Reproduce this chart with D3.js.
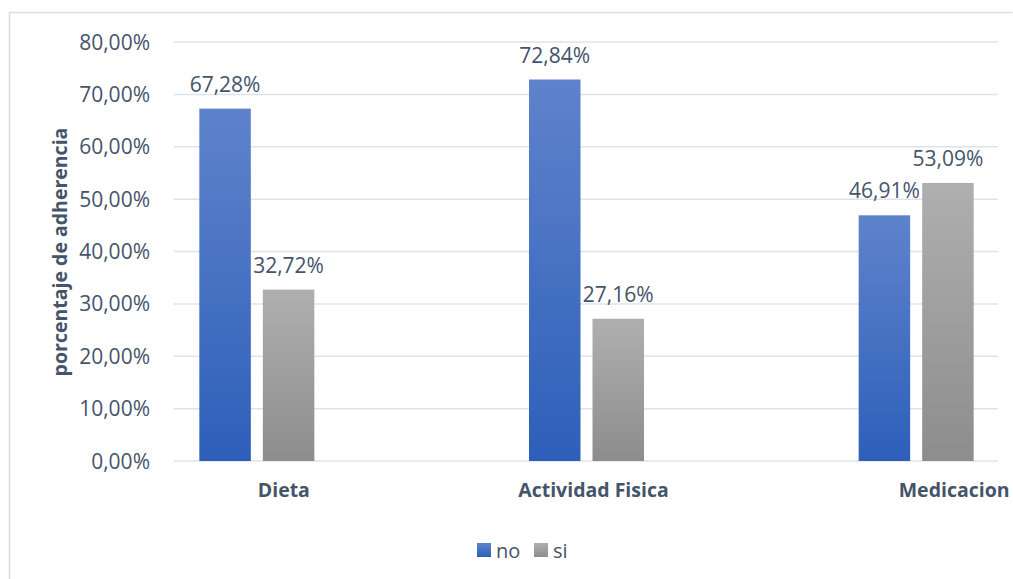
<!DOCTYPE html>
<html>
<head>
<meta charset="utf-8">
<script src="https://cdn.jsdelivr.net/npm/d3@7"></script>
<style>
  html, body { margin: 0; padding: 0; background: #fff; overflow: hidden; }
  svg { display: block; }
  text { font-family: "Open Sans", sans-serif; fill: #44546a; }
</style>
</head>
<body>
<svg id="chart" width="1013" height="579"></svg>
<script>
// ---- data ----
const categories = ["Dieta", "Actividad Fisica", "Medicacion"];
const seriesNames = ["no", "si"];
const noValues = [67.28, 72.84, 46.91];
const siValues = [32.72, 27.16, 53.09];
const yTicks = [0, 10, 20, 30, 40, 50, 60, 70, 80];
const yTitle = "porcentaje de adherencia";

// ---- layout ----
const svg = d3.select("#chart");
const plotLeft = 174, plotRight = 998, plotTop = 42, plotBottom = 461;
const labelNudge = [27, 7, 38];

const locale = d3.formatLocale({ decimal: ",", thousands: ".", grouping: [3], currency: ["", "€"] });
const fmt = v => locale.format(".2f")(v) + "%";

const x = d3.scaleBand().domain(categories).range([92, 1081]).padding(0);
const groupW = 115;
const xi = d3.scaleBand().domain(seriesNames)
  .range([x.bandwidth() / 2 - groupW / 2, x.bandwidth() / 2 + groupW / 2])
  .paddingInner(0.189).paddingOuter(0);
const y = d3.scaleLinear().domain([0, 80]).range([plotBottom, plotTop]);

// gradients
const defs = svg.append("defs");
const grads = { no: ["#5f83cb", "#2d5fba"], si: ["#afafaf", "#8d8d8d"] };
Object.entries(grads).forEach(([k, c]) => {
  const g = defs.append("linearGradient").attr("id", "g-" + k)
    .attr("x1", 0).attr("y1", 0).attr("x2", 0).attr("y2", 1);
  g.append("stop").attr("offset", "0%").attr("stop-color", c[0]);
  g.append("stop").attr("offset", "100%").attr("stop-color", c[1]);
});

// chart border
svg.append("path")
  .attr("d", `M9.5,600 V12.5 H1012.5`)
  .attr("fill", "none").attr("stroke", "#d9dde3").attr("stroke-width", 1.5);

// gridlines
svg.append("g").selectAll("line").data(yTicks).join("line")
  .attr("x1", plotLeft).attr("x2", plotRight)
  .attr("y1", d => y(d)).attr("y2", d => y(d))
  .attr("stroke", "#dfe3e9").attr("stroke-width", 1.5);

// y tick labels
svg.append("g").selectAll("text").data(yTicks).join("text")
  .attr("x", 150).attr("y", d => y(d) + 7.5)
  .attr("text-anchor", "end")
  .style("font-size", "21px")
  .text(d => fmt(d));

// y title
svg.append("text")
  .attr("transform", `translate(67,252) rotate(-90)`)
  .attr("text-anchor", "middle")
  .style("font-size", "19.5px").style("font-weight", "bold")
  .text(yTitle);

// bars
const rows = categories.map((c, i) => ({ cat: c, no: noValues[i], si: siValues[i] }));
const groups = svg.append("g").selectAll("g").data(rows).join("g")
  .attr("transform", d => `translate(${x(d.cat)},0)`);
groups.selectAll("rect").data(d => seriesNames.map(s => ({ s, v: d[s] }))).join("rect")
  .attr("x", d => xi(d.s)).attr("width", xi.bandwidth())
  .attr("y", d => y(d.v)).attr("height", d => y(0) - y(d.v))
  .attr("fill", d => `url(#g-${d.s})`);
groups.selectAll("text").data(d => seriesNames.map(s => ({ s, v: d[s] }))).join("text")
  .attr("x", d => xi(d.s) + xi.bandwidth() / 2)
  .attr("y", d => y(d.v) - 17)
  .attr("text-anchor", "middle")
  .style("font-size", "21px")
  .text(d => fmt(d.v));

// category labels
svg.append("g").selectAll("text").data(categories).join("text")
  .attr("x", (d, i) => x(d) + x.bandwidth() / 2 + labelNudge[i])
  .attr("y", 497)
  .attr("text-anchor", "middle")
  .style("font-size", "19.5px").style("font-weight", "bold")
  .text(d => d);

// legend
const legend = svg.append("g");
const legX = [477, 534];
seriesNames.forEach((s, i) => {
  legend.append("rect").attr("x", legX[i]).attr("y", 543).attr("width", 14).attr("height", 14)
    .attr("fill", `url(#g-${s})`);
  legend.append("text").attr("x", legX[i] + 19).attr("y", 557.5)
    .style("font-size", "20px").text(s);
});
</script>
</body>
</html>
